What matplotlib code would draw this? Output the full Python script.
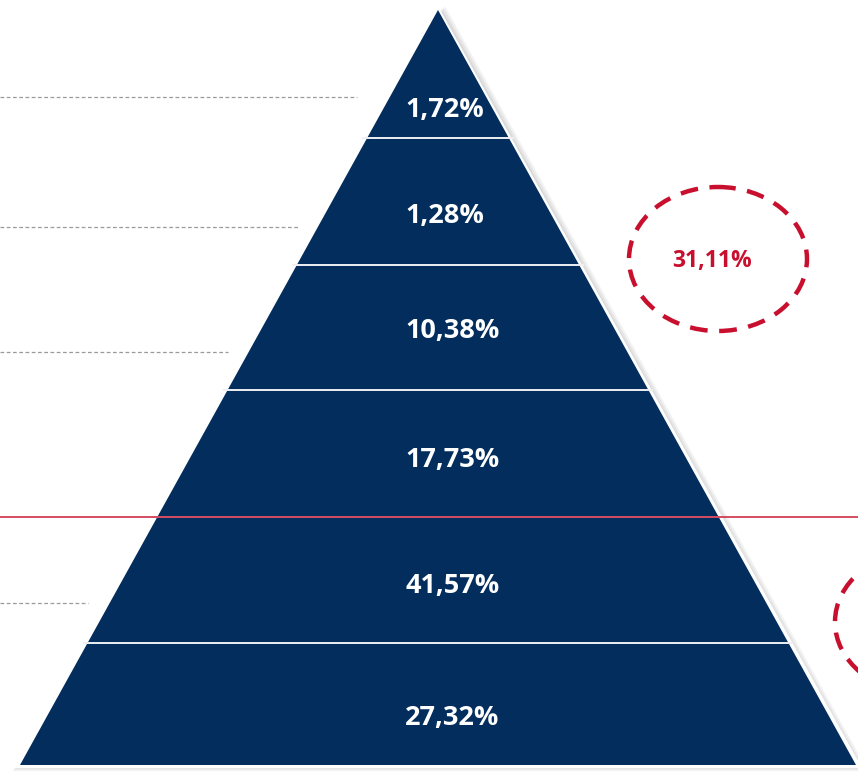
import matplotlib
matplotlib.use("Agg")
import matplotlib.pyplot as plt
from matplotlib.patches import Polygon, Ellipse

# ---- data ----
levels = ["L1", "L2", "L3", "L4", "L5", "L6"]          # top -> bottom
shares = [1.72, 1.28, 10.38, 17.73, 41.57, 27.32]       # %
highlight_top = 31.11                                    # % (sum of top bands)

def fmt(v):
    return f"{v:.2f}%".replace(".", ",")

W, H = 858, 774
fig = plt.figure(figsize=(W / 100, H / 100), dpi=100)
ax = fig.add_axes([0, 0, 1, 1])
ax.set_xlim(0, W)
ax.set_ylim(H, 0)
ax.axis("off")

navy = "#022d5c"
red = "#c8102e"

apex_x, apex_y = 438, 10
base_y = 765
half_base = 418
bounds = [apex_y, 138, 265, 390, 517, 643, base_y]
label_baselines = [116.5, 222.5, 338, 467.5, 592.5, 725]
label_left = 405

def xhalf(y):
    return half_base * (y - apex_y) / (base_y - apex_y)

# soft shadow
for i, a in enumerate([0.05, 0.05, 0.05, 0.05]):
    d = 3 + i * 3
    ax.add_patch(Polygon([(apex_x + d * 0.6, apex_y - d * 0.3),
                          (apex_x + half_base + d, base_y + d * 0.5),
                          (apex_x - half_base - d * 0.6, base_y + d * 0.5)],
                         closed=True, facecolor="black", alpha=a, edgecolor="none", zorder=1))

# white outline
ax.add_patch(Polygon([(apex_x, apex_y - 4), (apex_x + half_base + 6, base_y + 3),
                      (apex_x - half_base - 6, base_y + 3)], closed=True,
                     facecolor="white", edgecolor="none", zorder=2))
# navy body
ax.add_patch(Polygon([(apex_x, apex_y), (apex_x + half_base, base_y),
                      (apex_x - half_base, base_y)], closed=True,
                     facecolor=navy, edgecolor="none", zorder=3))

# band separators
for y in bounds[1:-1]:
    hw = xhalf(y)
    ax.plot([apex_x - hw - 4, apex_x + hw + 4], [y, y], color="#eef0f4", lw=1.4, zorder=4)

# labels
for v, yb in zip(shares, label_baselines):
    ax.text(label_left, yb, fmt(v), color="white", fontsize=19.5, fontweight="bold",
            family="Open Sans", ha="left", va="baseline", zorder=5)

# left dashed leader lines
leaders = [(97, 357), (227, 300), (352, 228), (603, 88)]
for y, xe in leaders:
    ax.plot([0, xe], [y, y], color="#9a9a9a", lw=0.9, ls=(0, (3, 2)), zorder=1)

# red horizontal line
ax.plot([0, W], [517, 517], color=red, lw=1.4, alpha=0.75, zorder=6)

# dashed ellipses
ax.add_patch(Ellipse((718, 259), 178, 144, facecolor="none", edgecolor=red,
                     lw=3.2, ls=(0, (4, 2.6)), zorder=6))
ax.text(712, 267, fmt(highlight_top), color=red, fontsize=16.5, fontweight="bold",
        family="Open Sans", ha="center", va="baseline", zorder=6)
ax.add_patch(Ellipse((924, 622), 178, 144, facecolor="none", edgecolor=red,
                     lw=3.2, ls=(0, (4, 2.6)), zorder=6))

fig.savefig("out.png", dpi=100)
